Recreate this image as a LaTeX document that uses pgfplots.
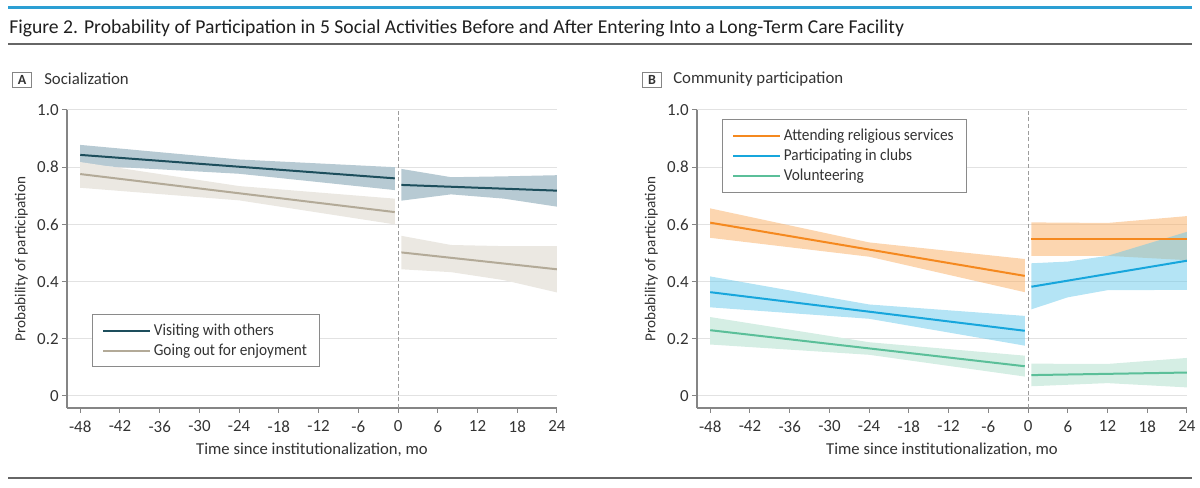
\documentclass[border=0pt]{standalone}
\usepackage{fontspec}
\setmainfont{Carlito}
\newfontfamily\legfont{Carlito}[FakeStretch=0.92]
\usepackage{pgfplots}
\pgfplotsset{compat=1.18}
\definecolor{visit}{HTML}{1D4E5C}
\definecolor{visitband}{HTML}{B7CAD3}
\definecolor{goout}{HTML}{B3AA98}
\definecolor{gooutband}{HTML}{EBE8E2}
\definecolor{relig}{HTML}{F5891F}
\definecolor{religband}{HTML}{F9AD61}
\definecolor{clubs}{HTML}{17A6DC}
\definecolor{clubsband}{HTML}{69C9EB}
\definecolor{volun}{HTML}{5BBF99}
\definecolor{volunband}{HTML}{D5EEE4}
\definecolor{axisgray}{HTML}{858585}
\definecolor{gridgray}{HTML}{E2E2E2}
\definecolor{labelgray}{HTML}{333333}
\definecolor{legendgray}{HTML}{8A8A8A}
\definecolor{topblue}{HTML}{2C9FD3}
\definecolor{rulegray}{HTML}{666666}
\pgfplotsset{
  panel/.style={
    scale only axis, width=367.5pt, height=223.5pt,
    xmin=-50, xmax=24, ymin=-0.042, ymax=1.0,
    axis x line*=bottom, axis y line*=left,
    axis line style={draw=axisgray, line width=0.9pt, -},
    xtick={-48,-42,-36,-30,-24,-18,-12,-6,0,6,12,18,24},
    xticklabels={-48,-42,-36,-30,-24,-18,-12,-6,0,6,12,18,24},
    ytick={0,0.2,0.4,0.6,0.8,1.0},
    yticklabels={0,0.2,0.4,0.6,0.8,1.0},
    tick align=outside, major tick length=3.75pt,
    tick style={draw=axisgray, line width=0.75pt},
    ymajorgrids, grid style={draw=gridgray, line width=0.75pt},
    tick label style={font=\fontsize{12.7}{14}\selectfont, text=labelgray},
    xticklabel style={yshift=-2.3pt},
    yticklabel style={xshift=1pt},
    /pgf/number format/assume math mode=true,
    xlabel={Time since institutionalization, mo},
    ylabel={Probability of participation},
    xlabel style={font=\fontsize{12.5}{14}\selectfont, text=labelgray,
      at={(axis description cs:0.5,0)}, anchor=center, yshift=-31pt},
    ylabel style={font=\fontsize{11.4}{13}\selectfont, text=labelgray, anchor=center},
    legend cell align=left,
    legend image code/.code={\draw[#1, line width=1.5pt] (0pt,0pt) -- (33pt,0pt); \path (0pt,0pt) -- (35pt,0pt);},
    legend style={draw=legendgray, line width=0.75pt, fill=white,
      font=\legfont\fontsize{12.5}{14}\selectfont, text=labelgray,
      inner xsep=7.5pt, inner ysep=5pt, row sep=1pt, anchor=north west},
  }
}
\begin{document}
\begin{tikzpicture}
\begin{scope}[x=0.75pt, y=-0.75pt]
\path (0,0) rectangle (1200,488);
\fill[topblue] (8,6.2) rectangle (1192,9.2);
\fill[rulegray] (8,43.3) rectangle (1192,45.3);
\fill[rulegray] (8,477) rectangle (1192,479);
\node[anchor=base west, inner sep=0, font=\fontsize{14.74}{16}\selectfont, text=black!88] at (9,33.3)
  {Figure 2. Probability of Participation in 5 Social Activities Before and After Entering Into a Long-Term Care Facility};
\node[draw=axisgray, line width=0.75pt, minimum width=13.8pt, minimum height=11pt, inner sep=0,
  anchor=north west, font=\bfseries\fontsize{10.5}{12}\selectfont, text=labelgray] at (12.3,72.3) {A};
\node[anchor=west, inner sep=0, font=\fontsize{12.6}{14}\selectfont, text=labelgray] at (44,78.8) {Socialization};
\node[draw=axisgray, line width=0.75pt, minimum width=13.8pt, minimum height=11pt, inner sep=0,
  anchor=north west, font=\bfseries\fontsize{10.5}{12}\selectfont, text=labelgray] at (642.3,72.3) {B};
\node[anchor=west, inner sep=0, font=\fontsize{12.6}{14}\selectfont, text=labelgray] at (673,78.8) {Community participation};
\end{scope}

% Panel A
\begin{axis}[panel, at={(50.25pt,-306pt)}, anchor=south west,
  ylabel style={at={(axis description cs:-0.093,0.5)}},
  legend style={at={(rel axis cs:0.051,0.315)}}]
\addplot[draw=none, fill=visitband, forget plot] coordinates {(-48,0.878) (-24,0.827) (-0.5,0.80) (-0.5,0.72) (-24,0.777) (-48,0.808)};
\addplot[draw=none, fill=visitband, forget plot] coordinates {(0.5,0.794) (8,0.765) (16,0.768) (24,0.772) (24,0.662) (16,0.690) (8,0.705) (0.5,0.683)};
\addplot[draw=none, fill=gooutband, forget plot] coordinates {(-48,0.818) (-24,0.734) (-0.5,0.69) (-0.5,0.60) (-24,0.684) (-48,0.728)};
\addplot[draw=none, fill=gooutband, forget plot] coordinates {(0.5,0.56) (8,0.528) (16,0.524) (24,0.524) (24,0.362) (16,0.405) (8,0.433) (0.5,0.443)};
\addplot[forget plot, draw=axisgray!80, line width=0.75pt, dash pattern=on 3pt off 2pt] coordinates {(0,-0.042) (0,1.0)};
\addplot[visit, line width=1.5pt] coordinates {(-48,0.843) (-0.5,0.761)};
\addlegendentry{Visiting with others}
\addplot[goout, line width=1.5pt] coordinates {(-48,0.776) (-0.5,0.643)};
\addlegendentry{Going out for enjoyment}
\addplot[visit, line width=1.5pt, forget plot] coordinates {(0.5,0.738) (24,0.718)};
\addplot[goout, line width=1.5pt, forget plot] coordinates {(0.5,0.502) (24,0.443)};
\end{axis}

% Panel B
\begin{axis}[panel, at={(522.75pt,-306pt)}, anchor=south west,
  ylabel style={at={(axis description cs:-0.093,0.5)}},
  legend style={at={(rel axis cs:0.051,0.970)}}]
\addplot[draw=none, fill=religband, fill opacity=0.5, forget plot] coordinates {(-48,0.656) (-24,0.537) (-0.5,0.479) (-0.5,0.363) (-24,0.487) (-48,0.553)};
\addplot[draw=none, fill=religband, fill opacity=0.5, forget plot] coordinates {(0.5,0.607) (12,0.605) (24,0.629) (24,0.475) (12,0.49) (0.5,0.49)};
\addplot[draw=none, fill=clubsband, fill opacity=0.5, forget plot] coordinates {(-48,0.418) (-24,0.32) (-0.5,0.28) (-0.5,0.176) (-24,0.270) (-48,0.31)};
\addplot[draw=none, fill=clubsband, fill opacity=0.5, forget plot] coordinates {(0.5,0.464) (6,0.47) (12,0.49) (24,0.574) (24,0.371) (12,0.37) (6,0.345) (0.5,0.303)};
\addplot[draw=none, fill=volunband, forget plot] coordinates {(-48,0.276) (-24,0.188) (-0.5,0.141) (-0.5,0.068) (-24,0.144) (-48,0.18)};
\addplot[draw=none, fill=volunband, forget plot] coordinates {(0.5,0.113) (12,0.112) (24,0.133) (24,0.03) (12,0.045) (0.5,0.034)};
\addplot[forget plot, draw=axisgray!80, line width=0.75pt, dash pattern=on 3pt off 2pt] coordinates {(0,-0.042) (0,1.0)};
\addplot[relig, line width=1.5pt] coordinates {(-48,0.606) (-0.5,0.42)};
\addlegendentry{Attending religious services}
\addplot[clubs, line width=1.5pt] coordinates {(-48,0.363) (-0.5,0.228)};
\addlegendentry{Participating in clubs}
\addplot[volun, line width=1.5pt] coordinates {(-48,0.23) (-0.5,0.104)};
\addlegendentry{Volunteering}
\addplot[relig, line width=1.5pt, forget plot] coordinates {(0.5,0.548) (24,0.548)};
\addplot[clubs, line width=1.5pt, forget plot] coordinates {(0.5,0.382) (24,0.473)};
\addplot[volun, line width=1.5pt, forget plot] coordinates {(0.5,0.073) (24,0.082)};
\end{axis}
\end{tikzpicture}
\end{document}
